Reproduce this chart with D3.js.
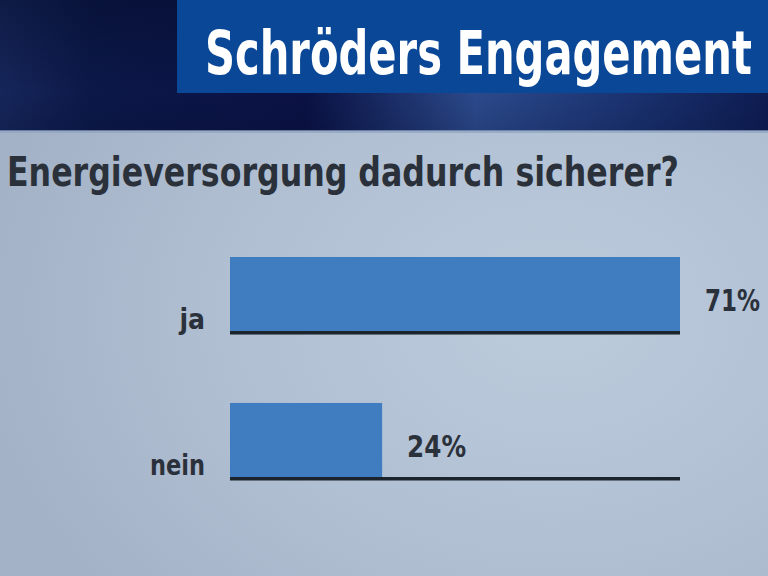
<!DOCTYPE html>
<html><head><meta charset="utf-8">
<script src="https://cdn.jsdelivr.net/npm/d3@7"></script>
<style>html,body{margin:0;padding:0;background:#aebdd0;}svg{display:block;}</style>
</head><body>
<svg id="c" width="768" height="576"></svg>
<script>
const title = "Schröders Engagement";
const subtitle = "Energieversorgung dadurch sicherer?";
const categories = ["ja", "nein"];
const values = [71, 24];
const valueLabels = ["71%", "24%"];

const W = 768, H = 576;
const svg = d3.select("#c");
const defs = svg.append("defs");
const font = "'DejaVu Sans Condensed','Liberation Sans Narrow','Open Sans',sans-serif";

// horizontally fitted text: natural font, scaled to a target width
function fitText(parent, str, x, y, size, width, fill, anchor) {
  const t = parent.append("text").text(str)
    .attr("fill", fill).attr("font-family", font).attr("font-weight", "bold").attr("font-size", size);
  const w = t.node().getComputedTextLength();
  const sx = Math.min(1, width / w);
  const x0 = anchor === "end" ? x - w * sx : x;
  t.attr("transform", `translate(${x0},${y}) scale(${sx},1)`);
  return t;
}

// background gradients
const bg = defs.append("radialGradient").attr("id","bg").attr("cx","0.72").attr("cy","0.55").attr("r","0.75");
bg.append("stop").attr("offset","0").attr("stop-color","#bccbdc");
bg.append("stop").attr("offset","0.6").attr("stop-color","#afbed1");
bg.append("stop").attr("offset","1").attr("stop-color","#a3b2c6");
const band = defs.append("linearGradient").attr("id","band").attr("x1","0").attr("x2","1").attr("y1","0").attr("y2","0");
band.append("stop").attr("offset","0").attr("stop-color","#16265a");
band.append("stop").attr("offset","0.12").attr("stop-color","#0c1848");
band.append("stop").attr("offset","0.4").attr("stop-color","#0a1244");
band.append("stop").attr("offset","0.62").attr("stop-color","#2c4a8c");
band.append("stop").attr("offset","0.8").attr("stop-color","#1c3574");
band.append("stop").attr("offset","1").attr("stop-color","#0e1c52");
const bandV = defs.append("linearGradient").attr("id","bandV").attr("x1","0").attr("x2","0").attr("y1","0").attr("y2","1");
bandV.append("stop").attr("offset","0").attr("stop-color","#000820").attr("stop-opacity","0.35");
bandV.append("stop").attr("offset","0.7").attr("stop-color","#000820").attr("stop-opacity","0");
bandV.append("stop").attr("offset","1").attr("stop-color","#000820").attr("stop-opacity","0.15");

svg.append("rect").attr("width",W).attr("height",H).attr("fill","url(#bg)");
svg.append("rect").attr("width",W).attr("height",131).attr("fill","url(#band)");
svg.append("rect").attr("width",W).attr("height",131).attr("fill","url(#bandV)");
svg.append("rect").attr("y",130).attr("width",W).attr("height",3).attr("fill","#8fa3c0").attr("opacity",0.7);

// title box
svg.append("rect").attr("x",177).attr("y",0).attr("width",W-177).attr("height",93).attr("fill","#0a4897");
fitText(svg, title, 205, 74, 61, 547, "#ffffff");

// subtitle
fitText(svg, subtitle, 7, 186, 41, 672, "#2b313b");

// scales
const x = d3.scaleLinear().domain([0, d3.max(values)]).range([230, 680]);
const y = d3.scaleBand().domain(categories).range([257, 478]).paddingInner(0.486).paddingOuter(0);
const barH = y.bandwidth();

const g = svg.append("g");
const labelW = { ja: 26, nein: 55 };
const valW = [55, 59];
categories.forEach((c, i) => {
  const yy = y(c);
  g.append("rect").attr("x", x(0)).attr("y", yy).attr("width", x(values[i]) - x(0)).attr("height", barH)
    .attr("fill", "#3f7dc0");
  g.append("rect").attr("x", x(0)).attr("y", yy + barH - 1).attr("width", x.range()[1] - x(0)).attr("height", 3.5)
    .attr("fill", "#1d232c");
  fitText(g, c, 205, yy + barH - 3, 28, labelW[c], "#2b313b", "end");
  fitText(g, valueLabels[i], x(values[i]) + 25, yy + 54, 31, valW[i], "#2b313b");
});
</script>
</body></html>
